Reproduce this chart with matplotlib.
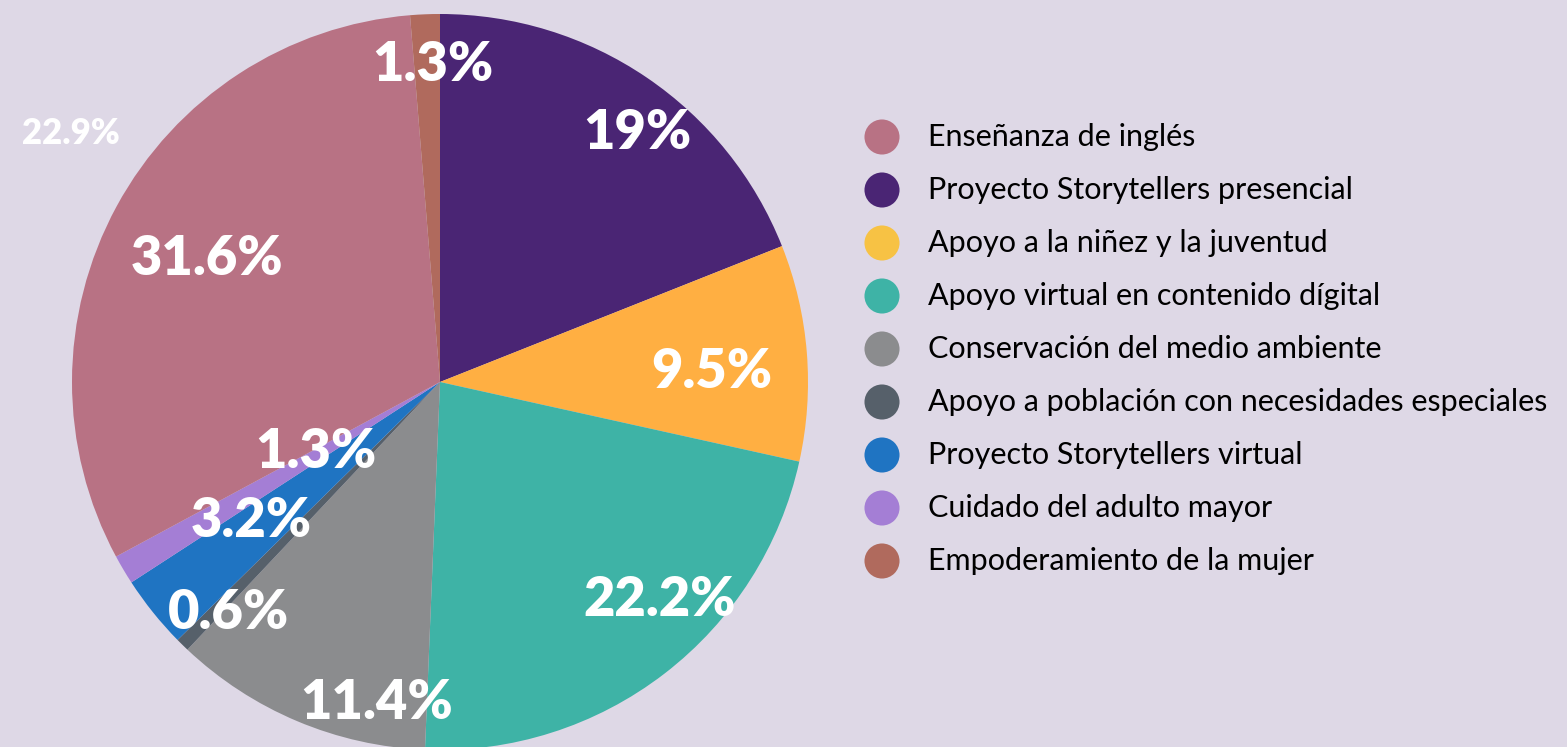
import matplotlib
import numpy as np

matplotlib.use("Agg")
import matplotlib.pyplot as plt

# Slices in drawing order (clockwise from 12 o'clock)
slice_names = [
    "Proyecto Storytellers presencial",
    "Apoyo a la niñez y la juventud",
    "Apoyo virtual en contenido dígital",
    "Conservación del medio ambiente",
    "Apoyo a población con necesidades especiales",
    "Proyecto Storytellers virtual",
    "Cuidado del adulto mayor",
    "Enseñanza de inglés",
    "Empoderamiento de la mujer",
]
slice_values = [19, 9.5, 22.2, 11.4, 0.6, 3.2, 1.3, 31.6, 1.3]
slice_labels = ["19%", "9.5%", "22.2%", "11.4%", "0.6%", "3.2%", "1.3%", "31.6%", "1.3%"]

# Legend order as shown on the right
legend_names = [
    "Enseñanza de inglés",
    "Proyecto Storytellers presencial",
    "Apoyo a la niñez y la juventud",
    "Apoyo virtual en contenido dígital",
    "Conservación del medio ambiente",
    "Apoyo a población con necesidades especiales",
    "Proyecto Storytellers virtual",
    "Cuidado del adulto mayor",
    "Empoderamiento de la mujer",
]

stray_label = "22.9%"

# Styles
BG = "#DED8E6"
slice_colors = ["#4A2574", "#FFAF42", "#3EB3A6", "#8B8C8E", "#56606A",
                "#1F74C2", "#A47ED5", "#B87284", "#B06A5D"]
legend_colors = ["#B87284", "#4A2574", "#F7C244", "#3EB3A6", "#8B8C8E",
                 "#56606A", "#1F74C2", "#A47ED5", "#B06A5D"]
# label placement per slice: (angle offset from wedge middle in deg, fraction of radius)
label_place = [(-4.3, 0.864), (-2.4, 0.74), (7.7, 0.84), (11.7, 0.89),
               (1.9, 0.85), (-2.4, 0.636), (-1.0, 0.387), (0.7, 0.715),
               (-1.0, 0.861)]

W, H = 1567, 747
fig = plt.figure(figsize=(W / 100, H / 100), dpi=100, facecolor=BG)
ax = fig.add_axes([0, 0, 1, 1])

cx, cy, R = 440, H - 382, 368
wedges, _ = ax.pie(slice_values, colors=slice_colors, startangle=90,
                   counterclock=False, center=(cx, cy), radius=R,
                   wedgeprops={"linewidth": 0}, frame=True)
ax.set_xlim(0, W)
ax.set_ylim(0, H)
ax.set_aspect("equal")
ax.axis("off")

for w, lab, (off, d) in zip(wedges, slice_labels, label_place):
    ang = np.deg2rad((w.theta1 + w.theta2) / 2 + off)
    ax.text(cx + d * R * np.cos(ang), cy + d * R * np.sin(ang), lab,
            ha="center", va="center", color="white", fontsize=39,
            fontweight="heavy", family="Lato")

ax.text(71, H - 133, stray_label, ha="center", va="center", color="white",
        fontsize=25, fontweight="heavy", family="Lato")

# Legend
for i, (name, col) in enumerate(zip(legend_names, legend_colors)):
    y = H - (137 + i * 53)
    ax.scatter([882], [y], s=35 ** 2 * 0.52, color=col, edgecolors="none")
    ax.text(928, y, name, ha="left", va="center", fontsize=22,
            color="black", family="Lato")

fig.savefig("out.png", dpi=100, facecolor=BG)
